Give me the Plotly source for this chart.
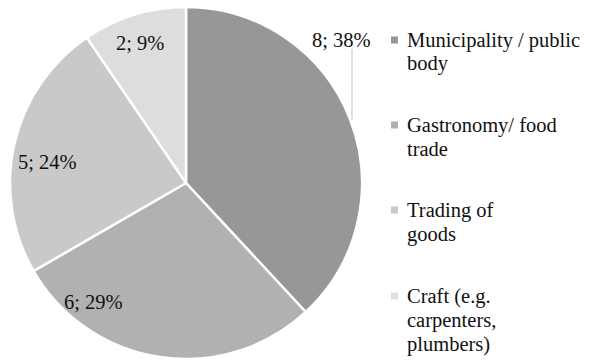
import plotly.graph_objects as go

# Respondents by type of business
categories = [
    "Municipality / public body",
    "Gastronomy/ food trade",
    "Trading of goods",
    "Craft (e.g. carpenters, plumbers)",
]
legend_lines = [
    ["Municipality / public", "body"],
    ["Gastronomy/ food", "trade"],
    ["Trading of", "goods"],
    ["Craft (e.g.", "carpenters,", "plumbers)"],
]
counts = [8, 6, 5, 2]
percent_labels = [38, 29, 24, 9]
colors = ["#979797", "#b1b1b1", "#c9c9c9", "#dcdddc"]

W, H = 589, 361
FONT = "Liberation Serif"
FONT_SIZE = 20.5

# pie geometry in pixels
cx, cy, r = 186, 183, 176


def px(x):
    return x / W


def py(y):
    return 1 - y / H


fig = go.Figure(
    go.Pie(
        labels=categories,
        values=counts,
        sort=False,
        direction="clockwise",
        rotation=0,
        marker=dict(colors=colors, line=dict(color="white", width=2.5)),
        textinfo="none",
        hoverinfo="label+value+percent",
        showlegend=False,
        domain=dict(x=[px(cx - r), px(cx + r)], y=[py(cy + r), py(cy - r)]),
    )
)

annotations = []
shapes = []

# data labels "count; percent"
label_pos = [(341, 40), (93, 302), (47, 162), (140, 43)]
for c, p, (lx, ly) in zip(counts, percent_labels, label_pos):
    annotations.append(
        dict(
            x=px(lx), y=py(ly), xref="paper", yref="paper",
            text=f"{c}; {p}%", showarrow=False,
            xanchor="center", yanchor="middle",
            font=dict(family=FONT, size=FONT_SIZE, color="#111111"),
        )
    )

# leader line for the outside label
shapes.append(
    dict(type="line", xref="paper", yref="paper",
         x0=px(352), x1=px(352), y0=py(49), y1=py(120),
         line=dict(color="#cccccc", width=1.2))
)

# legend
legend_y = [40, 125, 210, 296]
line_gap = 24
for lines, col, ly in zip(legend_lines, colors, legend_y):
    shapes.append(
        dict(type="rect", xref="paper", yref="paper",
             x0=px(391), x1=px(398), y0=py(ly + 3.5), y1=py(ly - 3.5),
             fillcolor=col, line=dict(width=0))
    )
    for i, t in enumerate(lines):
        annotations.append(
            dict(
                x=px(405), y=py(ly + i * line_gap), xref="paper", yref="paper",
                text=t, showarrow=False, xanchor="left", yanchor="middle",
                font=dict(family=FONT, size=FONT_SIZE, color="#111111"),
            )
        )

fig.update_layout(
    width=W, height=H,
    margin=dict(l=0, r=0, t=0, b=0),
    paper_bgcolor="white", plot_bgcolor="white",
    font=dict(family=FONT),
    annotations=annotations, shapes=shapes,
)

fig.write_html("out.html")
